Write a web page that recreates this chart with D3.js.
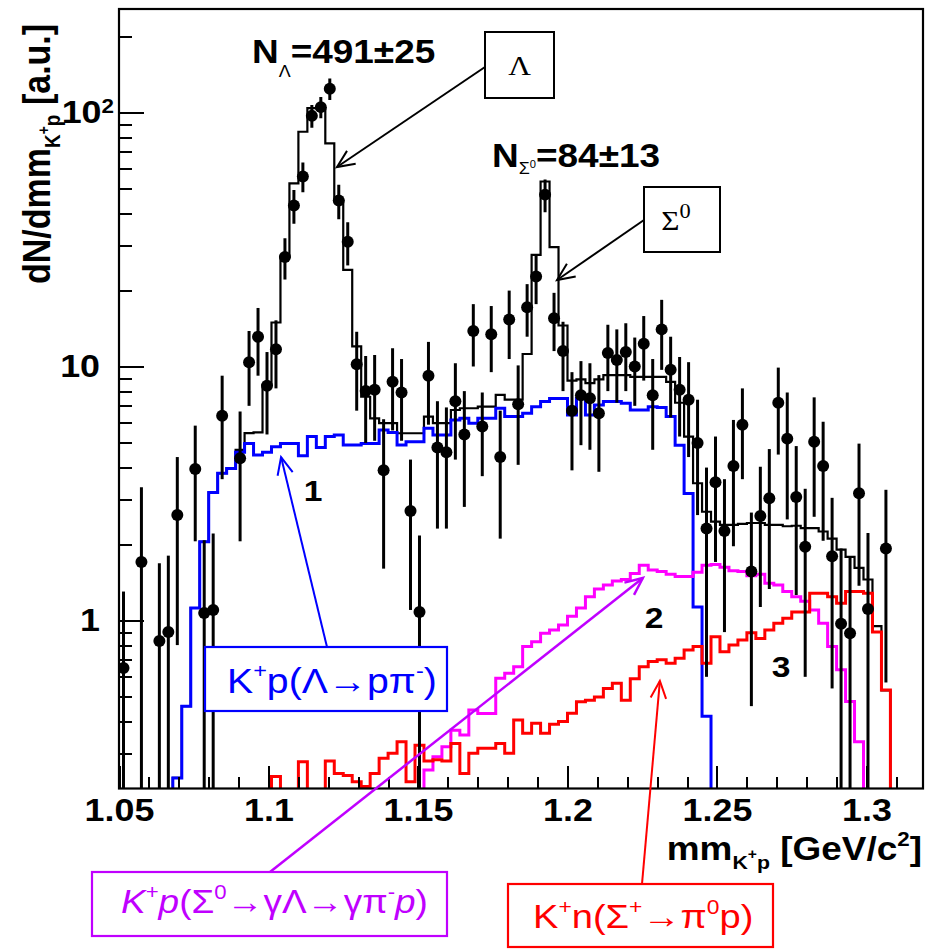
<!DOCTYPE html>
<meta charset="utf-8">
<style>
  body { margin: 0; background: #fff; }
  svg text { font-family: "Liberation Sans", Arial, sans-serif; }
  .axis path { display: none; }
  .axis line { stroke: #000; stroke-width: 2; shape-rendering: crispEdges; }
  .axis text { font-size: 32px; font-weight: bold; fill: #000; }
</style>
<body>
<div id="chart"></div>
<script src="https://cdn.jsdelivr.net/npm/d3@7/dist/d3.min.js"></script>
<script>

// 90 bins of 3 MeV/c2 starting at 1.05 GeV/c2
var binLow = 1.05, binWidth = 0.003;

// measured points (null = empty / below the plot)
var dataVal = [0.65, null, 1.7, null, 0.83, 0.9, 2.6, null, 3.95, 1.07,
  1.1, 6.4, null, 4.35, 10.4, 13.1, 8.4, 11.7, 27, 43,
  56, 97, 105, 124, 45, 31, 10.2, 8.0, 8.1, 3.9,
  8.7, 7.9, 2.7, 1.08, 9.2, 4.8, 4.6, 7.3, 5.4, 13.8,
  5.8, 13.4, 4.4, 15.3, 7.1, 17.1, 22.6, 47.5, 15.5, 11.5,
  6.7, 7.7, 7.5, 6.55, 11.3, 10.6, 11.4, 10.0, 12.3, 7.7,
  14.0, 9.7, 8.1, 7.4, 5.0, 2.3, 3.5, 2.25, 4.06, 5.9,
  1.56, 2.58, 3.03, 7.2, 5.2, 3.06, 1.95, 5.06, 4.06, 1.79,
  0.97, 0.89, 3.17, 1.11, null, 1.92, null, null, null, null];

var dataErr = [0.65, null, 1.65, null, 0.85, 0.9, 1.8, null, 1.9, 1.0,
  1.1, 2.8, null, 2.3, 3.4, 3.9, 3.0, 3.5, 5, 6.5,
  7.5, 10, 10, 12, 7, 6, 3.5, 3.0, 3.0, 2.3,
  3.1, 2.8, 1.6, 1.08, 3.3, 2.5, 2.3, 3.0, 2.6, 3.8,
  2.1, 3.9, 2.3, 4.6, 3.0, 4.0, 5.0, 7.0, 4.0, 3.5,
  2.8, 2.8, 2.8, 2.7, 3.3, 3.4, 3.4, 3.0, 3.5, 3.0,
  4.3, 3.4, 2.8, 3.0, 2.4, 1.7, 1.8, 1.35, 2.1, 2.3,
  1.1, 1.45, 1.7, 2.7, 2.7, 1.8, 1.35, 2.5, 2.0, 1.25,
  0.95, 0.89, 1.8, 1.1, null, 1.35, null, null, null, null];

// total fit (black)
var totalFit = [null, null, null, null, null, null, 0.24, 0.46, 1.12, 2.04,
  3.19, 3.8, 3.97, 4.7, 5.47, 5.5, 8.45, 14.9, 27, 52.6,
  84, 104, 104, 75.6, 45, 24, 12, 7.6, 6.25, 5.98,
  5.98, 5.46, 5.46, 5.46, 6.35, 5.98, 5.98, 6.74, 6.85, 6.85,
  6.95, 6.95, 7.73, 7.4, 7.4, 11.2, 27.5, 53.5, 29.5, 14.5,
  8.8, 8.9, 8.6, 8.9, 9.25, 9.25, 9.25, 9.1, 9.1, 9.1,
  9.1, 8.7, 7.2, 5.3, 3.47, 2.68, 2.45, 2.38, 2.38, 2.4,
  2.42, 2.42, 2.38, 2.38, 2.35, 2.36, 2.31, 2.31, 2.24, 2.1,
  1.9, 1.78, 1.61, 1.45, 0.95, 0.53, null, null, null, null];

// 1: K+p(Lambda -> p pi-)
var lambdaMC = [null, null, null, null, null, null, 0.24, 0.46, 1.12, 2.04,
  3.19, 3.8, 3.97, 4.6, 4.98, 4.48, 4.6, 4.83, 4.98, 4.98,
  4.45, 5.3, 4.8, 5.3, 5.37, 4.91, 4.91, 4.98, 4.98, 5.62,
  5.5, 4.91, 5.06, 5.06, 5.71, 5.37, 5.37, 6.16, 6.25, 5.98,
  6.25, 6.25, 6.85, 6.35, 6.35, 6.54, 6.95, 7.28, 7.49, 7.49,
  6.44, 7.49, 6.44, 7.06, 7.28, 7.28, 7.17, 6.74, 6.74, 6.95,
  6.9, 6.35, 4.9, 3.16, 1.13, 0.42, null, null, null, null,
  null, null, null, null, null, null, null, null, null, null,
  null, null, null, null, null, null, null, null, null, null];

// 2: K+p(Sigma0 -> gamma Lambda)
var sigma0MC = [null, null, null, null, null, null, null, null, null, null,
  null, null, null, null, null, null, null, null, null, null,
  null, null, null, null, null, null, null, null, null, null,
  null, null, null, null, 0.258, 0.291, 0.318, 0.37, 0.354, 0.444,
  0.43, 0.43, 0.592, 0.62, 0.658, 0.79, 0.825, 0.89, 0.917, 0.96,
  1.04, 1.12, 1.24, 1.33, 1.38, 1.43, 1.45, 1.53, 1.65, 1.58,
  1.56, 1.52, 1.49, 1.49, 1.55, 1.65, 1.66, 1.62, 1.57, 1.56,
  1.5, 1.52, 1.4, 1.38, 1.3, 1.24, 1.19, 1.1, 0.975, 0.79,
  0.64, 0.48, 0.333, null, null, null, null, null, null, null];

// 3: K+n(Sigma+ -> pi0 p)
var sigmaPlusMC = [null, null, null, null, null, null, null, null, null, null,
  null, null, null, null, null, null, null, 0.243, null, null,
  0.278, null, null, 0.28, 0.25, 0.245, 0.232, 0.222, 0.25, 0.287,
  0.3, 0.333, 0.232, 0.323, 0.28, 0.283, 0.28, 0.328, 0.25, 0.3,
  0.314, 0.314, 0.328, 0.3, 0.406, 0.36, 0.394, 0.36, 0.39, 0.4,
  0.431, 0.479, 0.485, 0.5, 0.54, 0.566, 0.485, 0.59, 0.658, 0.69,
  0.7, 0.678, 0.71, 0.765, 0.79, 0.678, 0.863, 0.754, 0.8, 0.838,
  0.895, 0.85, 0.917, 0.975, 1.02, 1.08, 1.08, 1.28, 1.28, 1.24,
  1.17, 1.3, 1.3, 1.28, 0.9, 0.533, null, null, null, null];

var xTickValues = [1.05, 1.1, 1.15, 1.2, 1.25, 1.3];
var yTickValues = [1, 10, 100];

var W = 925, H = 949;
var plot = {left: 119, right: 923, top: 9, bottom: 788.5};
var stretch = 1.12;   // the original figure is slightly wider than tall

var x = d3.scaleLinear().domain([1.05, 1.3189]).range([plot.left, plot.right]);
var y = d3.scaleLog().domain([0.218, 255.6]).range([plot.bottom, plot.top]);

var svg = d3.select("#chart").append("svg")
    .attr("width", W).attr("height", H);

svg.append("defs").append("clipPath").attr("id", "clip")
  .append("rect")
    .attr("x", plot.left).attr("y", plot.top)
    .attr("width", plot.right - plot.left)
    .attr("height", plot.bottom - plot.top);

var area = svg.append("g").attr("clip-path", "url(#clip)");

function stepPath(vals) {
  var pts = [];
  vals.forEach(function (v, i) {
    var lo = binLow + i * binWidth, hi = lo + binWidth;
    var yy = (v == null || v <= 0) ? plot.bottom + 6 : y(v);
    pts.push([x(lo), yy], [x(hi), yy]);
  });
  return d3.line()(pts);
}

var hists = [
  {vals: totalFit, color: "#000", width: 2.2},
  {vals: lambdaMC, color: "#0000ff", width: 3},
  {vals: sigma0MC, color: "#ff00ff", width: 3},
  {vals: sigmaPlusMC, color: "#ff0000", width: 3}
];

area.selectAll("path.hist")
    .data(hists)
  .enter().append("path")
    .attr("class", "hist")
    .attr("d", function (d) { return stepPath(d.vals); })
    .attr("fill", "none")
    .attr("stroke", function (d) { return d.color; })
    .attr("stroke-width", function (d) { return d.width; })
    .attr("stroke-linejoin", "miter");

// data points with error bars
var points = dataVal.map(function (v, i) {
  return {x: binLow + (i + 0.5) * binWidth, v: v, e: dataErr[i]};
}).filter(function (d) { return d.v != null; });

area.selectAll("line.err")
    .data(points)
  .enter().append("line")
    .attr("class", "err")
    .attr("x1", function (d) { return x(d.x); })
    .attr("x2", function (d) { return x(d.x); })
    .attr("y1", function (d) { return y(d.v + d.e); })
    .attr("y2", function (d) { return d.v - d.e > 0.05 ? y(d.v - d.e) : plot.bottom + 6; })
    .attr("stroke", "#000")
    .attr("stroke-width", 3);

area.selectAll("circle.pt")
    .data(points)
  .enter().append("circle")
    .attr("class", "pt")
    .attr("cx", function (d) { return x(d.x); })
    .attr("cy", function (d) { return y(d.v); })
    .attr("r", 6)
    .attr("fill", "#000");

// axes, ticks pointing inside
function stretchText(sel) {
  sel.each(function () {
    var t = d3.select(this);
    var tx = +t.attr("x") || 0, ty = +t.attr("y") || 0;
    t.attr("x", null).attr("y", null)
     .attr("transform", "translate(" + tx + "," + ty + ") scale(" + stretch + ",1)");
  });
}

svg.append("g").attr("class", "axis")
    .attr("transform", "translate(0," + plot.bottom + ")")
    .call(d3.axisBottom(x).ticks(27).tickSize(-12).tickSizeOuter(0).tickFormat(""));

svg.append("g").attr("class", "axis")
    .attr("transform", "translate(0," + plot.bottom + ")")
    .call(d3.axisBottom(x).tickValues(xTickValues).tickSize(-23).tickSizeOuter(0)
      .tickPadding(10).tickFormat(d3.format("")))
    .selectAll("text").call(stretchText);

svg.append("g").attr("class", "axis")
    .attr("transform", "translate(" + plot.left + ",0)")
    .call(d3.axisLeft(y).tickValues(y.ticks()).tickSize(-13).tickSizeOuter(0).tickFormat(""));

var yAx = svg.append("g").attr("class", "axis")
    .attr("transform", "translate(" + plot.left + ",0)")
    .call(d3.axisLeft(y).tickValues(yTickValues).tickSize(-25).tickSizeOuter(0)
      .tickPadding(19).tickFormat(d3.format("")));

yAx.selectAll("text").filter(function (d) { return d === 100; })
    .text("10").attr("x", -5)
    .append("tspan").attr("dy", "-0.5em").attr("font-size", "20px").text("2");
yAx.selectAll("text").call(stretchText);

svg.append("rect")
    .attr("x", plot.left).attr("y", plot.top)
    .attr("width", plot.right - plot.left).attr("height", plot.bottom - plot.top)
    .attr("fill", "none").attr("stroke", "#000").attr("stroke-width", 2.2);

// text with sub/superscripts
function rich(sel, parts, size) {
  var shift = 0;
  parts.forEach(function (p) {
    var ts = sel.append("tspan").text(p.t);
    var target = p.sup ? -0.42 * size : (p.sub ? 0.3 * size : 0);
    if (p.subDown) target = p.subDown;
    if (target !== shift) { ts.attr("dy", target - shift); shift = target; }
    if (p.sup || p.sub || p.subDown) ts.attr("font-size", p.size || size * 0.6);
    if (p.i) ts.attr("font-style", "italic");
    if (p.w) ts.attr("font-weight", p.w);
  });
}

function label(px, py, parts, opts) {
  var t = svg.append("text")
      .attr("transform", "translate(" + px + "," + py + ") scale(" + stretch + ",1)")
      .attr("font-size", opts.size)
      .attr("font-weight", opts.bold ? "bold" : "normal")
      .attr("fill", opts.color || "#000")
      .attr("text-anchor", opts.anchor || "start");
  if (opts.family) t.style("font-family", opts.family);
  rich(t, parts, opts.size);
  return t;
}

// axis titles
var yTitle = svg.append("text")
    .attr("transform", "translate(50,284) rotate(-90) scale(1,1.15)")
    .attr("font-size", 34).attr("font-weight", "bold");
rich(yTitle, [
  {t: "dN/dmm"},
  {t: "K", subDown: 9, size: 19}, {t: "+", subDown: -1, size: 14}, {t: "p", subDown: 9, size: 19},
  {t: " [a.u.]"}
], 34);

label(922, 860, [
  {t: "mm"},
  {t: "K", subDown: 9, size: 19}, {t: "+", subDown: -1, size: 14}, {t: "p", subDown: 9, size: 19},
  {t: " [GeV/c"}, {t: "2", sup: true, size: 20}, {t: "]"}
], {size: 33, bold: true, anchor: "end"});

// yields
label(252, 63, [
  {t: "N"}, {t: "Λ", subDown: 14, size: 16, w: "normal"}, {t: "=491±25"}
], {size: 33, bold: true});
label(492, 167, [
  {t: "N"}, {t: "Σ", subDown: 7, size: 16, w: "normal"}, {t: "0", subDown: 1, size: 10, w: "normal"},
  {t: "=84±13"}
], {size: 33, bold: true});

// component numbers
label(313, 501, [{t: "1"}], {size: 30, bold: true, anchor: "middle"});
label(654, 628, [{t: "2"}], {size: 30, bold: true, anchor: "middle"});
label(781, 677, [{t: "3"}], {size: 30, bold: true, anchor: "middle"});

// arrows
function arrow(x1, y1, x2, y2, color, w) {
  var a = Math.atan2(y2 - y1, x2 - x1), L = 19, s = 0.42;
  var p1 = [x2 - L * Math.cos(a - s), y2 - L * Math.sin(a - s)];
  var p2 = [x2 - L * Math.cos(a + s), y2 - L * Math.sin(a + s)];
  var g = svg.append("g").attr("stroke", color).attr("stroke-width", w).attr("fill", "none");
  g.append("line").attr("x1", x1).attr("y1", y1).attr("x2", x2).attr("y2", y2);
  g.append("path").attr("d", "M" + p1 + "L" + x2 + "," + y2 + "L" + p2);
}

arrow(485, 67, x(1.1229), y(61), "#000", 2);
arrow(644, 220, x(1.1965), y(21.9), "#000", 2);
arrow(327, 647, x(1.1042), y(4.4), "#0000ff", 2);
arrow(270, 872, x(1.2252), y(1.47), "#c000ff", 2.5);
arrow(642, 884, x(1.2309), y(0.578), "#ff0000", 2);

// peak boxes
function box(x0, y0, w, h, color, sw) {
  svg.append("rect").attr("x", x0).attr("y", y0).attr("width", w).attr("height", h)
    .attr("fill", "#fff").attr("stroke", color).attr("stroke-width", sw);
}
box(485, 32, 69, 66, "#000", 2);
label(519.5, 75, [{t: "Λ"}], {size: 28, anchor: "middle", family: "Liberation Serif"});
box(644, 187, 76, 65, "#000", 2);
label(676, 230, [{t: "Σ"}, {t: "0", sup: true, size: 20}],
  {size: 28, anchor: "middle", family: "Liberation Serif"});

// legend boxes
box(205, 647, 242, 64, "#0000ff", 2.2);
label(227, 693, [
  {t: "K"}, {t: "+", sup: true}, {t: "p(Λ→pπ"}, {t: "-", sup: true}, {t: ")"}
], {size: 35, color: "#0000ff"});

box(92, 872, 355, 64, "#c000ff", 2.2);
label(121, 913, [
  {t: "K", i: true}, {t: "+", sup: true}, {t: "p", i: true}, {t: "(Σ"}, {t: "0", sup: true},
  {t: "→γΛ→γπ"}, {t: "-", sup: true}, {t: "p", i: true}, {t: ")"}
], {size: 33, color: "#c000ff"});

box(508, 884, 265, 63, "#ff0000", 2.2);
label(533, 928, [
  {t: "K"}, {t: "+", sup: true}, {t: "n(Σ"}, {t: "+", sup: true}, {t: "→π"}, {t: "0", sup: true}, {t: "p)"}
], {size: 34, color: "#ff0000"});

</script>
</body>
